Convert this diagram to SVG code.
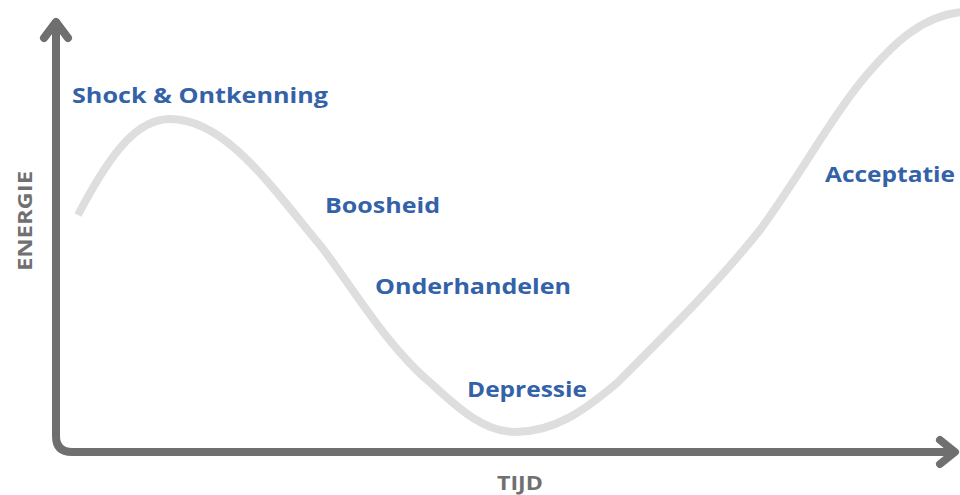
<svg xmlns="http://www.w3.org/2000/svg" width="960" height="495" viewBox="0 0 960 495">
<style>
.lbl{font-family:"Open Sans","Liberation Sans",sans-serif;font-weight:bold;font-size:22px;fill:#3462a8}
.ax{font-family:"Open Sans","Liberation Sans",sans-serif;font-weight:bold;font-size:19px;fill:#707070}
.axis{fill:none;stroke:#6f6f6f;stroke-width:8;stroke-linecap:round;stroke-linejoin:round}
.curve{fill:none;stroke:#dedede;stroke-width:8;stroke-linecap:butt}
</style>
<rect width="960" height="495" fill="#ffffff"/>
<g id="connectors">
<path class="curve" d="M78,215 C112,150 138,119 170,119 C225,119 270,185 320,245 C350,283 385,345 433,385 C460,410 485,432 515,432 C555,432 585,410 617,383 C680,320 720,280 760,230 C800,175 830,120 860,83 C895,40 925,15 962,12"/>
<path class="axis" d="M56,24 V436 Q56,452 72,452 H950"/>
<path class="axis" d="M44,38 L56,22 L68,38"/>
<path class="axis" d="M940,440 L955,452 L940,464"/>
</g>
<g id="n-energie"><text class="ax" transform="translate(32,221) rotate(-90)" text-anchor="middle" textLength="100" lengthAdjust="spacingAndGlyphs">ENERGIE</text></g>
<g id="n-tijd"><text class="ax" x="497" y="490" textLength="46" lengthAdjust="spacingAndGlyphs">TIJD</text></g>
<g id="n-shock"><text class="lbl" x="72" y="103" textLength="256" lengthAdjust="spacingAndGlyphs">Shock &amp; Ontkenning</text></g>
<g id="n-boosheid"><text class="lbl" x="325" y="213" textLength="115" lengthAdjust="spacingAndGlyphs">Boosheid</text></g>
<g id="n-onderhandelen"><text class="lbl" x="375" y="294" textLength="196" lengthAdjust="spacingAndGlyphs">Onderhandelen</text></g>
<g id="n-depressie"><text class="lbl" x="467" y="397" textLength="120" lengthAdjust="spacingAndGlyphs">Depressie</text></g>
<g id="n-acceptatie"><text class="lbl" x="825" y="182" textLength="130" lengthAdjust="spacingAndGlyphs">Acceptatie</text></g>
</svg>
